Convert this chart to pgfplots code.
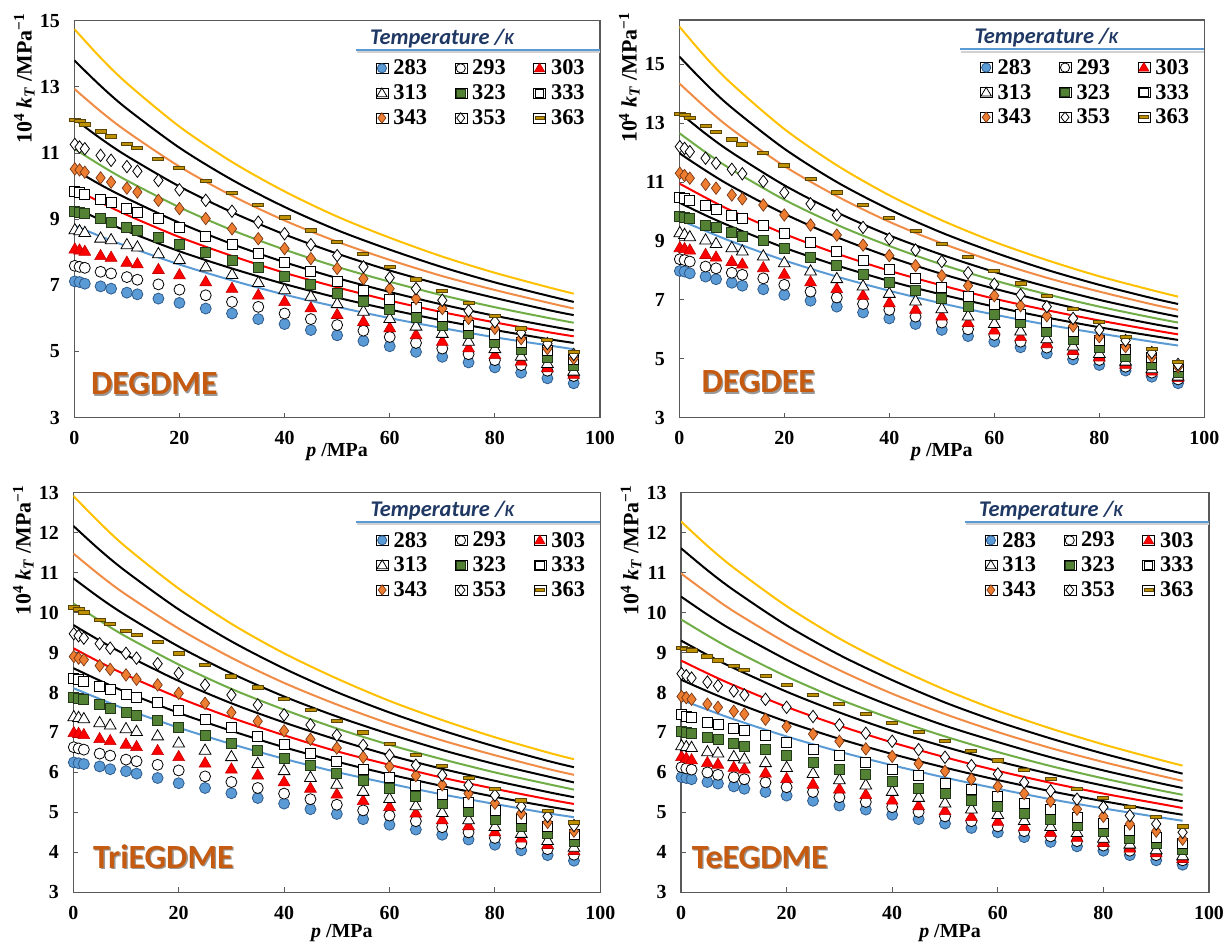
\documentclass[border=0pt]{standalone}
\usepackage{fontspec}
\setmainfont{Liberation Serif}
\newfontfamily\carlito{Carlito}
\usepackage{pgfplots}
\usepackage{pgfplotstable}
\pgfplotsset{compat=1.18}

\definecolor{c283}{RGB}{91,155,213}
\definecolor{c283d}{RGB}{46,90,140}
\definecolor{c303}{RGB}{255,0,0}
\definecolor{c303d}{RGB}{192,0,0}
\definecolor{c323}{RGB}{84,130,53}
\definecolor{c323d}{RGB}{35,55,25}
\definecolor{c343}{RGB}{237,125,49}
\definecolor{c343d}{RGB}{120,55,20}
\definecolor{c363}{RGB}{191,144,0}
\definecolor{c363d}{RGB}{90,70,10}
\definecolor{lblue}{RGB}{91,155,213}
\definecolor{lred}{RGB}{255,0,0}
\definecolor{lgreen}{RGB}{112,173,71}
\definecolor{lorange}{RGB}{240,140,70}
\definecolor{lyellow}{RGB}{255,192,0}
\definecolor{tblue}{RGB}{31,56,100}
\definecolor{uline}{RGB}{91,155,213}
\definecolor{lbl}{RGB}{197,90,17}
\definecolor{axgray}{RGB}{89,89,89}

% ---------------- data (10^4 kT / MPa^-1) ----------------
\pgfplotstableread{
p    t283 t293 t303 t313 t323 t333 t343  t353  t363
0.1  7.12 7.59 8.08 8.66 9.25 9.85 10.52 11.26 12.01
1    7.10 7.56 8.05 8.63 9.21 9.80 10.49 11.18 11.98
2    7.05 7.53 8.01 8.58 9.17 9.75 10.42 11.13 11.86
5    6.97 7.41 7.88 8.41 9.02 9.60 10.25 10.93 11.65
7    6.90 7.36 7.83 8.36 8.91 9.50 10.12 10.78 11.50
10   6.78 7.25 7.68 8.21 8.74 9.32 9.94  10.59 11.28
12   6.73 7.17 7.63 8.14 8.66 9.22 9.82  10.45 11.15
16   6.60 7.03 7.46 7.94 8.46 9.02 9.57  10.17 10.83
20   6.47 6.87 7.30 7.76 8.24 8.76 9.32  9.89  10.54
25   6.30 6.70 7.09 7.54 7.99 8.48 9.02  9.57  10.15
30   6.15 6.50 6.89 7.31 7.76 8.23 8.71  9.24  9.79
35   5.98 6.35 6.69 7.07 7.53 7.96 8.41  8.91  9.42
40   5.83 6.15 6.49 6.85 7.27 7.68 8.11  8.56  9.05
45   5.65 5.98 6.30 6.65 7.03 7.41 7.81  8.23  8.66
50   5.49 5.80 6.10 6.43 6.77 7.12 7.51  7.90  8.31
55   5.32 5.63 5.89 6.20 6.52 6.85 7.20  7.56  7.94
60   5.16 5.44 5.70 5.98 6.27 6.58 6.90  7.23  7.56
65   4.99 5.26 5.49 5.75 6.03 6.32 6.60  6.90  7.18
70   4.84 5.09 5.29 5.53 5.78 6.05 6.30  6.55  6.83
75   4.67 4.92 5.09 5.29 5.55 5.80 6.00  6.23  6.47
80   4.52 4.74 4.89 5.07 5.29 5.53 5.70  5.90  6.07
85   4.36 4.59 4.69 4.84 5.06 5.27 5.39  5.57  5.70
90   4.19 4.42 4.49 4.62 4.82 5.02 5.09  5.24  5.34
95   4.04 4.26 4.29 4.39 4.59 4.76 4.79  4.91  4.99
}\dataA
\pgfplotstableread{
p    t283 t293 t303 t313 t323 t333  t343  t353  t363
0.1  7.98 8.38 8.75 9.26 9.83 10.48 11.30 12.20 13.31
1    7.96 8.35 8.72 9.20 9.80 10.44 11.22 12.14 13.27
2    7.90 8.30 8.67 9.12 9.75 10.39 11.13 12.03 13.17
5    7.79 8.13 8.52 9.01 9.54 10.19 10.92 11.81 12.91
7    7.70 8.07 8.43 8.89 9.45 10.08 10.79 11.64 12.71
10   7.58 7.92 8.28 8.75 9.28 9.88  10.56 11.43 12.45
12   7.48 7.85 8.19 8.64 9.17 9.75  10.43 11.28 12.28
16   7.36 7.73 8.07 8.47 9.01 9.54  10.22 11.02 11.98
20   7.17 7.51 7.85 8.24 8.75 9.24  9.88  10.64 11.56
25   6.97 7.28 7.59 7.96 8.45 8.94  9.54  10.26 11.11
30   6.77 7.08 7.36 7.70 8.16 8.64  9.20  9.88  10.65
35   6.57 6.86 7.13 7.45 7.88 8.33  8.86  9.46  10.22
40   6.37 6.66 6.88 7.20 7.59 8.04  8.50  9.07  9.77
45   6.18 6.43 6.66 6.94 7.31 7.73  8.16  8.69  9.34
50   5.98 6.23 6.43 6.68 7.05 7.43  7.82  8.30  8.89
55   5.77 6.00 6.21 6.43 6.79 7.13  7.48  7.92  8.45
60   5.58 5.81 5.95 6.18 6.51 6.83  7.14  7.53  7.99
65   5.39 5.58 5.73 5.92 6.23 6.52  6.80  7.17  7.56
70   5.18 5.38 5.49 5.66 5.94 6.23  6.46  6.77  7.13
75   4.98 5.15 5.26 5.41 5.66 5.92  6.11  6.37  6.68
80   4.79 4.96 5.04 5.16 5.39 5.64  5.75  5.98  6.24
85   4.60 4.73 4.79 4.90 5.09 5.33  5.41  5.62  5.75
90   4.39 4.53 4.56 4.64 4.82 5.04  5.07  5.21  5.33
95   4.17 4.30 4.34 4.39 4.53 4.73  4.73  4.81  4.90
}\dataB
\pgfplotstableread{
p    t283 t293 t303 t313 t323 t333 t343 t353 t363
0.1  6.25 6.63 6.98 7.38 7.88 8.36 8.90 9.47 10.13
1    6.23 6.60 6.96 7.36 7.85 8.33 8.86 9.42 10.08
2    6.21 6.57 6.93 7.33 7.82 8.29 8.82 9.36 10.00
5    6.15 6.47 6.83 7.23 7.69 8.15 8.67 9.22 9.82
7    6.08 6.42 6.78 7.17 7.61 8.07 8.58 9.11 9.71
10   6.03 6.32 6.69 7.08 7.50 7.94 8.44 8.98 9.54
12   5.97 6.28 6.63 7.01 7.43 7.88 8.33 8.86 9.44
16   5.86 6.19 6.53 6.90 7.30 7.75 8.19 8.72 9.26
20   5.73 6.05 6.38 6.72 7.13 7.54 7.98 8.48 8.98
25   5.61 5.90 6.22 6.54 6.93 7.33 7.73 8.19 8.69
30   5.48 5.76 6.07 6.38 6.73 7.13 7.50 7.94 8.40
35   5.36 5.61 5.92 6.21 6.55 6.90 7.28 7.69 8.13
40   5.22 5.47 5.75 6.03 6.36 6.69 7.04 7.44 7.84
45   5.08 5.33 5.59 5.86 6.17 6.48 6.83 7.19 7.57
50   4.96 5.19 5.44 5.69 5.98 6.28 6.61 6.93 7.28
55   4.83 5.05 5.28 5.51 5.79 6.08 6.38 6.68 7.00
60   4.69 4.92 5.13 5.33 5.59 5.88 6.15 6.43 6.72
65   4.57 4.78 4.97 5.15 5.40 5.67 5.92 6.18 6.44
70   4.44 4.63 4.80 4.98 5.22 5.46 5.69 5.93 6.17
75   4.32 4.50 4.65 4.80 5.03 5.25 5.47 5.68 5.86
80   4.19 4.36 4.50 4.63 4.83 5.05 5.23 5.43 5.58
85   4.05 4.22 4.34 4.46 4.65 4.86 4.98 5.15 5.30
90   3.93 4.08 4.18 4.28 4.47 4.65 4.75 4.90 5.03
95   3.79 3.94 4.03 4.11 4.28 4.46 4.53 4.67 4.75
}\dataC
\pgfplotstableread{
p    t283 t293 t303 t313 t323 t333 t343 t353 t363
0.1  5.88 6.13 6.38 6.65 7.03 7.44 7.90 8.47 9.11
1    5.86 6.10 6.34 6.63 7.00 7.41 7.87 8.42 9.09
2    5.83 6.07 6.30 6.61 6.97 7.38 7.83 8.36 9.05
5    5.76 6.00 6.23 6.50 6.88 7.26 7.71 8.26 8.90
7    5.72 5.94 6.19 6.47 6.82 7.19 7.63 8.17 8.80
10   5.65 5.88 6.11 6.38 6.72 7.11 7.53 8.04 8.67
12   5.59 5.83 6.07 6.32 6.65 7.04 7.46 7.94 8.57
16   5.51 5.75 5.97 6.23 6.57 6.93 7.33 7.83 8.42
20   5.42 5.63 5.83 6.11 6.42 6.75 7.15 7.63 8.19
25   5.29 5.51 5.69 5.96 6.25 6.58 6.96 7.40 7.94
30   5.17 5.38 5.57 5.80 6.08 6.42 6.78 7.19 7.71
35   5.07 5.26 5.43 5.67 5.94 6.25 6.59 6.98 7.47
40   4.94 5.13 5.29 5.51 5.78 6.08 6.40 6.78 7.23
45   4.83 5.01 5.15 5.36 5.61 5.92 6.22 6.57 7.01
50   4.72 4.90 5.03 5.22 5.47 5.73 6.03 6.38 6.78
55   4.61 4.78 4.88 5.07 5.30 5.57 5.83 6.17 6.54
60   4.50 4.65 4.76 4.93 5.15 5.40 5.65 5.96 6.30
65   4.38 4.53 4.63 4.78 4.98 5.23 5.47 5.75 6.07
70   4.26 4.40 4.48 4.63 4.83 5.07 5.28 5.54 5.83
75   4.15 4.28 4.36 4.48 4.67 4.88 5.08 5.33 5.59
80   4.04 4.17 4.23 4.34 4.53 4.73 4.90 5.13 5.36
85   3.93 4.04 4.09 4.19 4.36 4.55 4.71 4.92 5.13
90   3.80 3.93 3.97 4.05 4.22 4.38 4.53 4.71 4.88
95   3.69 3.80 3.83 3.90 4.07 4.22 4.33 4.50 4.65
}\dataD

% ---------------- model curves ----------------
\pgfplotstableread{
p  bl   k1   rd    k2    gr    k3    or    k4    ye
0  8.81 9.35 9.92  10.50 11.13 12.03 12.94 13.80 14.75
5  8.48 8.98 9.51  10.04 10.63 11.44 12.26 13.03 13.88
10 8.18 8.64 9.13  9.63  10.17 10.91 11.65 12.34 13.11
20 7.63 8.03 8.46  8.89  9.36  9.99  10.59 11.16 11.80
30 7.15 7.51 7.89  8.25  8.67  9.21  9.71  10.19 10.73
40 6.72 7.04 7.38  7.70  8.08  8.54  8.96  9.37  9.84
50 6.35 6.63 6.94  7.22  7.56  7.96  8.32  8.67  9.08
60 6.01 6.27 6.54  6.80  7.11  7.45  7.77  8.08  8.44
70 5.71 5.94 6.19  6.42  6.70  7.01  7.28  7.55  7.87
80 5.43 5.65 5.88  6.08  6.34  6.62  6.86  7.09  7.38
90 5.19 5.38 5.59  5.78  6.02  6.26  6.48  6.69  6.95
95 5.07 5.26 5.46  5.64  5.87  6.10  6.30  6.50  6.75
}\curA
\pgfplotstableread{
p  bl   k1    rd    k2    gr    k3    or    k4    ye
0  9.72 10.30 10.95 11.98 12.66 13.36 14.35 15.26 16.28
5  9.34 9.87  10.47 11.39 12.01 12.64 13.53 14.34 15.24
10 8.98 9.48  10.02 10.85 11.42 12.00 12.79 13.52 14.33
20 8.34 8.77  9.24  9.92  10.40 10.89 11.54 12.13 12.80
30 7.79 8.17  8.57  9.13  9.55  9.97  10.52 11.00 11.57
40 7.31 7.64  7.99  8.46  8.83  9.19  9.65  10.07 10.55
50 6.88 7.18  7.49  7.88  8.20  8.53  8.92  9.28  9.70
60 6.50 6.77  7.04  7.38  7.66  7.95  8.30  8.61  8.97
70 6.16 6.40  6.65  6.94  7.19  7.45  7.75  8.02  8.35
80 5.86 6.07  6.30  6.54  6.77  7.00  7.28  7.51  7.80
90 5.58 5.78  5.98  6.19  6.40  6.61  6.85  7.06  7.33
95 5.45 5.64  5.83  6.03  6.23  6.43  6.66  6.86  7.11
}\curB
\pgfplotstableread{
p  bl   k1   rd   k2   gr    k3    or    k4    ye
0  8.11 8.61 9.11 9.69 10.23 10.86 11.48 12.17 12.92
5  7.84 8.30 8.76 9.30 9.80  10.37 10.94 11.57 12.25
10 7.58 8.01 8.44 8.94 9.40  9.93  10.45 11.03 11.64
20 7.12 7.49 7.87 8.29 8.70  9.15  9.60  10.08 10.60
30 6.71 7.04 7.37 7.73 8.09  8.48  8.87  9.28  9.72
40 6.34 6.63 6.93 7.25 7.57  7.90  8.24  8.60  8.98
50 6.01 6.27 6.53 6.82 7.10  7.40  7.70  8.01  8.35
60 5.72 5.95 6.19 6.43 6.69  6.96  7.22  7.50  7.79
70 5.45 5.66 5.87 6.09 6.33  6.56  6.80  7.05  7.31
80 5.21 5.39 5.59 5.79 6.00  6.21  6.43  6.65  6.88
90 4.98 5.15 5.33 5.51 5.71  5.90  6.09  6.29  6.50
95 4.88 5.04 5.21 5.38 5.57  5.75  5.94  6.13  6.33
}\curC
\pgfplotstableread{
p  bl   k1   rd   k2   gr   k3    or    k4    ye
0  7.82 8.32 8.80 9.30 9.83 10.40 10.98 11.61 12.28
5  7.57 8.03 8.48 8.94 9.43 9.95  10.49 11.06 11.67
10 7.33 7.76 8.18 8.61 9.06 9.54  10.03 10.56 11.12
20 6.90 7.27 7.64 8.02 8.40 8.82  9.24  9.68  10.16
30 6.52 6.84 7.17 7.50 7.83 8.19  8.56  8.94  9.35
40 6.18 6.46 6.75 7.04 7.34 7.65  7.97  8.31  8.67
50 5.87 6.12 6.38 6.64 6.90 7.17  7.46  7.75  8.07
60 5.59 5.81 6.04 6.28 6.51 6.76  7.01  7.27  7.55
70 5.33 5.53 5.74 5.96 6.16 6.38  6.61  6.85  7.10
80 5.10 5.28 5.47 5.67 5.85 6.05  6.26  6.47  6.70
90 4.89 5.05 5.23 5.40 5.57 5.75  5.94  6.13  6.34
95 4.79 4.94 5.11 5.28 5.44 5.61  5.79  5.97  6.17
}\curD

\pgfplotsset{
  lg/.style={legend image code/.code={\path (0bp,-5bp) rectangle (12bp,5bp); #1}},
  m283/.style={only marks, mark=*, mark size=5.5bp, mark options={fill=c283, draw=c283d, line width=0.8bp},
    lg={\filldraw[fill=c283, draw=c283d, line width=0.8bp] (6bp,0bp) circle (4.6bp);}},
  m293/.style={only marks, mark=*, mark size=5.5bp, mark options={fill=white, draw=black, line width=0.8bp},
    lg={\filldraw[fill=white, draw=black, line width=0.8bp] (6bp,0bp) circle (4.6bp);}},
  m303/.style={only marks, mark=triangle*, mark size=6.8bp, mark options={fill=c303, draw=c303d, line width=0.6bp},
    lg={\filldraw[fill=c303, draw=c303d, line width=0.6bp] (0.8bp,-3.6bp) -- (11.2bp,-3.6bp) -- (6bp,5.2bp) -- cycle;}},
  m313/.style={only marks, mark=triangle*, mark size=6.8bp, mark options={fill=white, draw=black, line width=0.8bp},
    lg={\filldraw[fill=white, draw=black, line width=0.8bp] (0.8bp,-3.6bp) -- (11.2bp,-3.6bp) -- (6bp,5.2bp) -- cycle;}},
  m323/.style={only marks, mark=square*, mark size=5bp, mark options={fill=c323, draw=c323d, line width=0.8bp},
    lg={\filldraw[fill=c323, draw=c323d, line width=0.8bp] (1.8bp,-4.2bp) rectangle (10.2bp,4.2bp);}},
  m333/.style={only marks, mark=square*, mark size=5bp, mark options={fill=white, draw=black, line width=0.8bp},
    lg={\filldraw[fill=white, draw=black, line width=0.8bp] (1.8bp,-4.2bp) rectangle (10.2bp,4.2bp);}},
  m343/.style={only marks, mark=diamond*, mark size=6.2bp, mark options={fill=c343, draw=c343d, line width=0.7bp},
    lg={\filldraw[fill=c343, draw=c343d, line width=0.7bp] (6bp,5.2bp) -- (10bp,0bp) -- (6bp,-5.2bp) -- (2bp,0bp) -- cycle;}},
  m353/.style={only marks, mark=diamond*, mark size=6.2bp, mark options={fill=white, draw=black, line width=0.8bp},
    lg={\filldraw[fill=white, draw=black, line width=0.8bp] (6bp,5.2bp) -- (10bp,0bp) -- (6bp,-5.2bp) -- (2bp,0bp) -- cycle;}},
  m363/.style={only marks, mark=square*, mark size=5.5bp, mark options={yscale=0.3, fill=c363, draw=c363d, line width=0.9bp},
    lg={\filldraw[fill=c363, draw=c363d, line width=0.8bp] (1.5bp,-1.5bp) rectangle (10.5bp,1.5bp);}},
  cv/.style={smooth, line width=2bp},
  kt/.style={
    scale only axis, xmin=0, xmax=100, xtick={0,20,...,100},
    axis line style={axgray, line width=1.3bp},
    tick style={axgray, line width=1bp},
    tick pos=left, tick align=inside, major tick length=5bp,
    /pgf/number format/assume math mode=true,
    ticklabel style={font=\bfseries\fontsize{20}{24}\selectfont},
    xticklabel style={yshift=-10.5bp},
    yticklabel style={xshift=-11bp},
    xlabel={\textit{p} /MPa},
    xlabel style={font=\bfseries\fontsize{20}{24}\selectfont, at={(rel axis cs:0.5,0)}, anchor=center, yshift=-34.3bp},
    ylabel={10\textsuperscript{4} \textit{k}\textsubscript{\textit{T}} /MPa\textsuperscript{\char"2212 1}},
    ylabel style={font=\bfseries\fontsize{22}{24}\selectfont, at={([xshift=-50bp,yshift=11bp]rel axis cs:0,1)}, rotate=0, anchor=east},
    legend columns=3, legend cell align=left,
    legend style={at={(rel axis cs:1,1)}, anchor=north west, xshift=-224.3bp, yshift=-39.4bp,
      draw=none, fill=none, inner sep=0pt, outer sep=0pt,
      font=\bfseries\fontsize{22.5}{24}\selectfont,
      nodes={inner sep=0pt, outer sep=0pt},
      row sep=8.5bp,
      /tikz/every odd column/.append style={column sep=5.3bp},
      /tikz/every even column/.append style={column sep=27.5bp}},
  },
}

\newcommand{\curves}[1]{%
  \addplot[forget plot, cv, lblue]   table[x=p,y=bl]{#1};
  \addplot[forget plot, cv, black]   table[x=p,y=k1]{#1};
  \addplot[forget plot, cv, lred]    table[x=p,y=rd]{#1};
  \addplot[forget plot, cv, black]   table[x=p,y=k2]{#1};
  \addplot[forget plot, cv, lgreen]  table[x=p,y=gr]{#1};
  \addplot[forget plot, cv, black]   table[x=p,y=k3]{#1};
  \addplot[forget plot, cv, lorange] table[x=p,y=or]{#1};
  \addplot[forget plot, cv, black]   table[x=p,y=k4]{#1};
  \addplot[forget plot, cv, lyellow] table[x=p,y=ye]{#1};
}
\newcommand{\points}[1]{%
  \addplot[m283] table[x=p,y=t283]{#1}; \addlegendentry{283}
  \addplot[m293] table[x=p,y=t293]{#1}; \addlegendentry{293}
  \addplot[m303] table[x=p,y=t303]{#1}; \addlegendentry{303}
  \addplot[m313] table[x=p,y=t313]{#1}; \addlegendentry{313}
  \addplot[m323] table[x=p,y=t323]{#1}; \addlegendentry{323}
  \addplot[m333] table[x=p,y=t333]{#1}; \addlegendentry{333}
  \addplot[m343] table[x=p,y=t343]{#1}; \addlegendentry{343}
  \addplot[m353] table[x=p,y=t353]{#1}; \addlegendentry{353}
  \addplot[m363] table[x=p,y=t363]{#1}; \addlegendentry{363}
}
\newcommand{\legtitle}{%
  \draw[line width=2bp, black!18] ([xshift=-243bp,yshift=-31.6bp]rel axis cs:1,1) -- ([yshift=-31.6bp]rel axis cs:1,1);
  \draw[line width=2bp, uline] ([xshift=-244bp,yshift=-29.3bp]rel axis cs:1,1) -- ([yshift=-29.3bp]rel axis cs:1,1);
  \node[anchor=west, inner sep=0pt, text=tblue, font=\carlito\bfseries\itshape\fontsize{22.5}{24}\selectfont]
    at ([xshift=-230bp,yshift=-17.6bp]rel axis cs:1,1) {Temperature /{\fontsize{17}{18}\selectfont K}};
}
\newcommand{\panellabel}[3]{% xshift, yshift, text
  \node[anchor=base west, inner sep=0pt, text=black!40, font=\carlito\bfseries\fontsize{34}{36}\selectfont]
    at ([xshift=#1bp+1.3bp,yshift=#2bp-1.3bp]rel axis cs:0,0) {#3};
  \node[anchor=base west, inner sep=0pt, text=lbl, font=\carlito\bfseries\fontsize{34}{36}\selectfont]
    at ([xshift=#1bp,yshift=#2bp]rel axis cs:0,0) {#3};
}

\begin{document}
\begin{tikzpicture}
\useasboundingbox (0,0) rectangle (1227bp,945bp);

% DEGDME
\begin{axis}[kt, at={(74.3bp,527.3bp)}, anchor=south west, width=525.7bp, height=397bp,
  ymin=3, ymax=15, ytick={3,5,...,15}]
  \curves{\curA}
  \points{\dataA}
  \legtitle
  \panellabel{16.6}{22.7}{DEGDME}
\end{axis}

% DEGDEE
\begin{axis}[kt, at={(679.3bp,527.3bp)}, anchor=south west, width=525bp, height=397.7bp,
  ymin=3, ymax=16.5, ytick={3,5,...,15}]
  \curves{\curB}
  \points{\dataB}
  \legtitle
  \panellabel{22}{24.7}{DEGDEE}
\end{axis}

% TriEGDME
\begin{axis}[kt, at={(73.3bp,52.7bp)}, anchor=south west, width=527bp, height=399.6bp,
  ymin=3, ymax=13, ytick={3,4,...,13},
  xlabel style={yshift=-6.7bp, xshift=5bp}]
  \curves{\curC}
  \points{\dataC}
  \legtitle
  \panellabel{19.7}{24}{TriEGDME}
\end{axis}

% TeEGDME
\begin{axis}[kt, at={(681bp,52.7bp)}, anchor=south west, width=528bp, height=399.6bp,
  ymin=3, ymax=13, ytick={3,4,...,13},
  xlabel style={yshift=-6.7bp, xshift=5bp}]
  \curves{\curD}
  \points{\dataD}
  \legtitle
  \panellabel{10.6}{24}{TeEGDME}
\end{axis}
\end{tikzpicture}
\end{document}
